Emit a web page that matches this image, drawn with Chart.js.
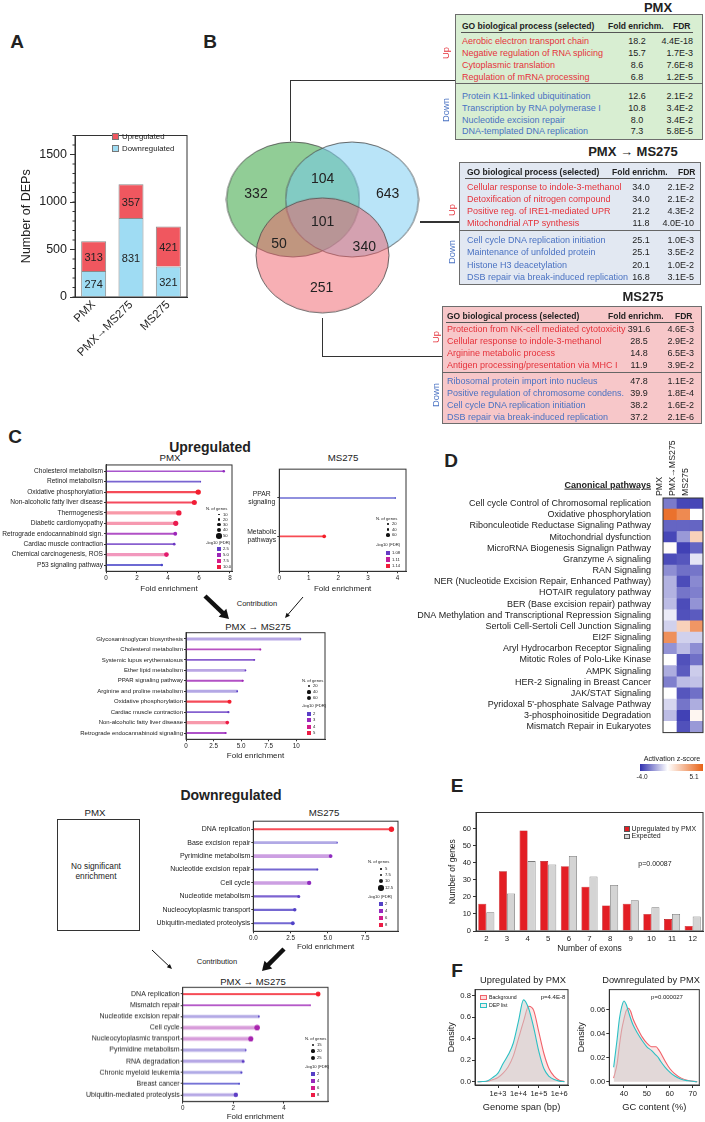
<!DOCTYPE html>
<html>
<head>
<meta charset="utf-8">
<script src="https://cdn.jsdelivr.net/npm/chart.js@4.4.1/dist/chart.umd.min.js"></script>
<style>
  body { margin: 0; background: #fff; }
  #page { position: relative; width: 705px; height: 1122px; overflow: hidden; font-family: "Liberation Sans", Arial, sans-serif; color: #222; }
  .abs { position: absolute; }
  .t { position: absolute; white-space: pre; line-height: 1.2; }
</style>
</head>
<body>
<div id="page"></div>
<script>
// ---------- data ----------
// A: number of DEPs
const depGroups = ['PMX', 'PMX\u2192MS275', 'MS275'];
const depUp = [313, 357, 421];
const depDown = [274, 831, 321];

// B: venn regions
const vennRegions = ['PMX only', 'PMX\u2192MS275 only', 'MS275 only', 'PMX & PMX\u2192MS275', 'PMX & MS275', 'PMX\u2192MS275 & MS275', 'all'];
const vennCounts = [332, 643, 251, 104, 50, 340, 101];

// B: GO tables
const goPmxUp = ['Aerobic electron transport chain', 'Negative regulation of RNA splicing', 'Cytoplasmic translation', 'Regulation of mRNA processing'];
const goPmxUpFold = [18.2, 15.7, 8.6, 6.8];
const goPmxUpFdr = ['4.4E-18', '1.7E-3', '7.6E-8', '1.2E-5'];
const goPmxDown = ['Protein K11-linked ubiquitination', 'Transcription by RNA polymerase I', 'Nucleotide excision repair', 'DNA-templated DNA replication'];
const goPmxDownFold = [12.6, 10.8, 8.0, 7.3];
const goPmxDownFdr = ['2.1E-2', '3.4E-2', '3.4E-2', '5.8E-5'];

const goComboUp = ['Cellular response to indole-3-methanol', 'Detoxification of nitrogen compound', 'Positive reg. of IRE1-mediated UPR', 'Mitochondrial ATP synthesis'];
const goComboUpFold = [34.0, 34.0, 21.2, 11.8];
const goComboUpFdr = ['2.1E-2', '2.1E-2', '4.3E-2', '4.0E-10'];
const goComboDown = ['Cell cycle DNA replication initiation', 'Maintenance of unfolded protein', 'Histone H3 deacetylation', 'DSB repair via break-induced replication'];
const goComboDownFold = [25.1, 25.1, 20.1, 16.8];
const goComboDownFdr = ['1.0E-3', '3.5E-2', '1.0E-2', '3.1E-5'];

const goMsUp = ['Protection from NK-cell mediated cytotoxicity', 'Cellular response to indole-3-methanol', 'Arginine metabolic process', 'Antigen processing/presentation via MHC I'];
const goMsUpFold = [391.6, 28.5, 14.8, 11.9];
const goMsUpFdr = ['4.6E-3', '2.9E-2', '6.5E-3', '3.9E-2'];
const goMsDown = ['Ribosomal protein import into nucleus', 'Positive regulation of chromosome condens.', 'Cell cycle DNA replication initiation', 'DSB repair via break-induced replication'];
const goMsDownFold = [47.8, 39.9, 38.2, 37.2];
const goMsDownFdr = ['1.1E-2', '1.8E-4', '1.6E-2', '2.1E-6'];

// C: KEGG lollipops (fold enrichment, number of genes, -log10 FDR)
const upPmxTerms = ['Cholesterol metabolism', 'Retinol metabolism', 'Oxidative phosphorylation', 'Non-alcoholic fatty liver disease', 'Thermogenesis', 'Diabetic cardiomyopathy', 'Retrograde endocannabinoid sign.', 'Cardiac muscle contraction', 'Chemical carcinogenesis, ROS', 'P53 signaling pathway'];
const upPmxFold = [7.6, 6.1, 5.95, 5.7, 4.7, 4.5, 4.47, 4.4, 3.9, 3.6];
const upPmxGenes = [22, 10, 48, 45, 48, 46, 34, 24, 42, 22];
const upPmxFdr = [4.5, 2.2, 10.8, 10.5, 10.2, 9.6, 5.0, 3.0, 8.6, 1.6];

const upMsTerms = ['PPAR\nsignaling', 'Metabolic\npathways'];
const upMsFold = [3.93, 1.52];
const upMsGenes = [12, 60];
const upMsFdr = [1.07, 1.145];

const upComboTerms = ['Glycosaminoglycan biosynthesis', 'Cholesterol metabolism', 'Systemic lupus erythematosus', 'Ether lipid metabolism', 'PPAR signaling pathway', 'Arginine and proline metabolism', 'Oxidative phosphorylation', 'Cardiac muscle contraction', 'Non-alcoholic fatty liver disease', 'Retrograde endocannabinoid signaling'];
const upComboFold = [10.4, 6.75, 6.2, 5.4, 5.15, 4.65, 3.95, 3.85, 3.75, 3.6];
const upComboGenes = [12, 20, 20, 18, 24, 18, 58, 25, 50, 24];
const upComboFdr = [2.1, 3.2, 2.3, 2.2, 3.1, 2.0, 5.3, 2.2, 5.0, 3.0];

const downMsTerms = ['DNA replication', 'Base excision repair', 'Pyrimidine metabolism', 'Nucleotide excision repair', 'Cell cycle', 'Nucleotide metabolism', 'Nucleocytoplasmic transport', 'Ubiquitin-mediated proteolysis'];
const downMsFold = [9.27, 5.63, 5.19, 4.3, 3.75, 3.05, 2.78, 2.65];
const downMsGenes = [12.5, 4.8, 9.5, 6, 10.5, 8, 9, 9.5];
const downMsFdr = [8.7, 2.0, 3.8, 2.0, 3.8, 2.3, 2.0, 1.9];

const downComboTerms = ['DNA replication', 'Mismatch repair', 'Nucleotide excision repair', 'Cell cycle', 'Nucleocytoplasmic transport', 'Pyrimidine metabolism', 'RNA degradation', 'Chronic myeloid leukemia', 'Breast cancer', 'Ubiquitin-mediated proteolysis'];
const downComboFold = [5.35, 5.04, 3.01, 2.94, 2.69, 2.49, 2.39, 2.32, 2.23, 2.1];
const downComboGenes = [25, 10, 12, 28, 26, 12, 17, 14, 12, 23];
const downComboFdr = [8.7, 4.2, 2.0, 4.6, 4.5, 2.0, 2.2, 1.8, 1.6, 2.2];

// D: canonical pathways, activation z-score
const pathways = ['Cell cycle Control of Chromosomal replication', 'Oxidative phosphorylation', 'Ribonculeotide Reductase Signaling Pathway', 'Mitochondrial dysfunction', 'MicroRNA Biogenesis Signalign Pathway', 'Granzyme A signaling', 'RAN Signaling', 'NER (Nucleotide Excision Repair, Enhanced Pathway)', 'HOTAIR regulatory pathway', 'BER (Base excision repair) pathway', 'DNA Methylation and Transcriptional Repression Signaling', 'Sertoli Cell-Sertoli Cell Junction Signaling', 'EI2F Signaling', 'Aryl Hydrocarbon Receptor Signaling', 'Mitotic Roles of Polo-Like Kinase', 'AMPK Signaling', 'HER-2 Signaling in Breast Cancer', 'JAK/STAT Signaling', "Pyridoxal 5'-phosphate Salvage Pathway", '3-phosphoinositide Degradation', 'Mismatch Repair in Eukaryotes'];
const heatCols = ['PMX', 'PMX\u2192MS275', 'MS275'];
const zPmx = [-2.6, 4.6, -3.0, -3.6, 0.1, -3.5, -2.2, -1.5, -1.5, -1.3, -0.4, -0.9, 3.6, -2.1, 0, -1.6, -2.5, 0, -0.8, -1.3, 0];
const zCombo = [-3.6, 3.8, -3.0, -2.0, -3.7, -3.3, -2.8, -3.5, -2.7, -3.5, -3.4, 1.5, -0.9, -1.3, -3.4, -3.2, -1.3, -3.3, -2.7, -3.7, -3.4];
const zMs = [-3.6, 0, -3.0, 1.5, -3.0, -0.5, -2.7, -2.3, -2.5, -2.1, -3.2, 3.4, -0.9, -2.2, -2.8, -1.0, -1.2, -2.8, -1.6, 0.3, -2.0];

// E: exon numbers
const exonCounts = ['2', '3', '4', '5', '6', '7', '8', '9', '10', '11', '12'];
const exonUp = [16, 35, 59, 41, 38, 26, 15, 16, 10, 7, 3];
const exonExpected = [11, 22, 41, 39, 44, 32, 27, 18, 14, 10, 8.5];

// F: densities
const spanLog = [2.0, 2.25, 2.5, 2.75, 3.0, 3.25, 3.5, 3.75, 4.0, 4.25, 4.5, 4.75, 5.0, 5.25, 5.5, 5.75, 6.0, 6.25];
const spanBackground = [0, 0.002, 0.005, 0.02, 0.04, 0.08, 0.14, 0.24, 0.40, 0.56, 0.70, 0.66, 0.46, 0.26, 0.12, 0.05, 0.015, 0.003];
const spanDep = [0, 0.002, 0.01, 0.04, 0.08, 0.17, 0.25, 0.36, 0.56, 0.76, 0.68, 0.50, 0.28, 0.12, 0.05, 0.02, 0.006, 0.001];
const gcPct = [35.5, 37, 38, 39, 40, 41, 42, 43, 44, 46, 48, 50, 52, 54, 55, 56, 58, 60, 62, 65, 68, 72];
const gcBackground = [0.003, 0.015, 0.03, 0.043, 0.052, 0.059, 0.061, 0.058, 0.052, 0.044, 0.037, 0.032, 0.029, 0.029, 0.027, 0.024, 0.017, 0.011, 0.007, 0.003, 0.001, 0];
const gcDep = [0.012, 0.035, 0.052, 0.062, 0.067, 0.064, 0.058, 0.052, 0.047, 0.040, 0.034, 0.029, 0.026, 0.022, 0.020, 0.017, 0.012, 0.008, 0.005, 0.002, 0.0008, 0];

// ---------- helpers ----------
const RED = '#e5323b';
const BLUE = '#4a72c2';
const FONT = '"Liberation Sans", Arial, sans-serif';
Chart.defaults.font.family = FONT;
Chart.defaults.color = '#222';
Chart.defaults.animation = false;
Chart.defaults.events = [];
Chart.defaults.plugins.legend.display = false;
Chart.defaults.plugins.tooltip.enabled = false;

const page = document.getElementById('page');

function text(str, x, y, opt = {}) {
  const d = document.createElement('div');
  d.className = 't';
  d.textContent = str;
  d.style.left = x + 'px';
  d.style.top = y + 'px';
  d.style.fontSize = (opt.size || 8) + 'px';
  if (opt.bold) d.style.fontWeight = 'bold';
  if (opt.color) d.style.color = opt.color;
  if (opt.center) d.style.textAlign = 'center';
  if (opt.underline) d.style.textDecoration = 'underline';
  const ax = opt.align === 'left' ? '0' : opt.align === 'right' ? '-100%' : '-50%';
  d.style.transform = `translate(${ax},-50%)` + (opt.rotate ? ` rotate(${opt.rotate}deg)` : '');
  page.appendChild(d);
  return d;
}

function rect(x, y, w, h, css) {
  const d = document.createElement('div');
  d.className = 'abs';
  d.style.cssText += `left:${x}px;top:${y}px;width:${w}px;height:${h}px;box-sizing:border-box;` + css;
  page.appendChild(d);
  return d;
}

function makeCanvas(x, y, w, h) {
  const wrap = rect(x, y, w, h, '');
  const c = document.createElement('canvas');
  wrap.appendChild(c);
  return c;
}

// box around the plot area
Chart.register({
  id: 'frame',
  afterDraw(chart, args, opts) {
    if (!opts.color) return;
    const { ctx, chartArea: a } = chart;
    ctx.save();
    ctx.strokeStyle = opts.color;
    ctx.lineWidth = opts.width || 1;
    ctx.strokeRect(a.left, a.top, a.right - a.left, a.bottom - a.top);
    ctx.restore();
  }
});

const fdrStops = [[70, 70, 200], [150, 40, 190], [220, 25, 130], [245, 30, 40]];
function fdrColor(v, lo, hi) {
  const t = Math.min(1, Math.max(0, (v - lo) / (hi - lo))) * 3;
  const i = Math.min(2, Math.floor(t));
  const f = t - i;
  return fdrStops[i].map((c, k) => Math.round(c + (fdrStops[i + 1][k] - c) * f));
}
function rgba(c, a) { return `rgba(${c[0]},${c[1]},${c[2]},${a})`; }
function sizeOf(n, st) {
  const t = Math.min(1, Math.max(0, (n - st.n0) / (st.n1 - st.n0)));
  return st.r0 + (st.r1 - st.r0) * t;
}

function lollipop(terms, fold, genes, fdr, st) {
  const col = fdr.map(v => fdrColor(v, st.fdrLo, st.fdrHi));
  const stems = [...new Set(st.stem)].map(w => {
    const ids = fold.map((v, i) => i).filter(i => st.stem[i] === w);
    return {
      type: 'bar', indexAxis: 'y', grouped: false, barThickness: w, order: 2,
      data: ids.map(i => ({ x: fold[i], y: i + 1 })),
      backgroundColor: ids.map(i => rgba(col[i], w >= 2 ? 0.45 : 0.8)),
      borderWidth: 0
    };
  });
  new Chart(makeCanvas(st.box[0], st.box[1], st.box[2], st.box[3]), {
    type: 'bubble',
    data: {
      datasets: [{
        type: 'bubble', order: 1, clip: false,
        data: fold.map((v, i) => ({ x: v, y: i + 1, r: sizeOf(genes[i], st) })),
        backgroundColor: col.map(c => rgba(c, 1)),
        borderWidth: 0
      }, ...stems]
    },
    options: {
      responsive: true, maintainAspectRatio: false,
      layout: { padding: { top: st.padTop, right: st.padRight, left: 0, bottom: 0 } },
      plugins: { frame: { color: '#333' } },
      scales: {
        x: {
          type: 'linear', min: 0, max: st.xMax, offset: false,
          afterBuildTicks: s => { s.ticks = st.xTicks.map(v => ({ value: v })); },
          ticks: { font: { size: 6.3 }, padding: 1, maxRotation: 0, autoSkip: false, callback: st.fmt },
          grid: { drawOnChartArea: false, tickLength: 2, color: '#333' },
          border: { color: '#333' },
          title: { display: true, text: 'Fold enrichment', font: { size: 8 }, padding: 0 },
          afterFit: s => { s.height = st.xH; }
        },
        y: {
          type: 'linear', reverse: true, offset: false,
          min: st.yMin ?? 0.4, max: st.yMax ?? terms.length + 0.6,
          afterBuildTicks: s => { s.ticks = terms.map((t, i) => ({ value: i + 1 })); },
          ticks: { font: { size: st.label }, padding: 1, autoSkip: false, crossAlign: st.cross || 'near', callback: v => terms[v - 1].split('\n') },
          grid: { drawOnChartArea: false, offset: false, tickLength: 2, color: '#333' },
          border: { color: '#333' },
          afterFit: s => { s.width = st.yW; }
        }
      }
    }
  });
  // legend
  const L = st.leg;
  text('N. of genes', L.x, L.gt, { size: 4.2, align: 'left' });
  L.genes.forEach((g, i) => {
    const r = sizeOf(g, st);
    rect(L.dot - r, L.gy[i] - r, r * 2, r * 2, 'background:#111;border-radius:50%;');
    text(String(g === Math.round(g) ? g : g.toFixed(1)), L.dot + 4, L.gy[i], { size: 4.2, align: 'left' });
  });
  text('-log10 (FDR)', L.x, L.ft, { size: 4.2, align: 'left' });
  L.fdr.forEach((f, i) => {
    rect(L.dot - 2.3, L.fy[i] - 2.3, 4.6, 4.6, 'background:' + rgba(fdrColor(f, st.fdrLo, st.fdrHi), 1) + ';');
    text(L.fdrText[i], L.dot + 4, L.fy[i], { size: 4.2, align: 'left' });
  });
}

function arrow(svg, x1, y1, x2, y2, w, hl, hw) {
  const len = Math.hypot(x2 - x1, y2 - y1);
  const dx = (x2 - x1) / len, dy = (y2 - y1) / len;
  const bx = x2 - dx * hl, by = y2 - dy * hl;
  const line = document.createElementNS('http://www.w3.org/2000/svg', 'line');
  line.setAttribute('x1', x1); line.setAttribute('y1', y1);
  line.setAttribute('x2', bx + dx); line.setAttribute('y2', by + dy);
  line.setAttribute('stroke', '#111'); line.setAttribute('stroke-width', w);
  svg.appendChild(line);
  const head = document.createElementNS('http://www.w3.org/2000/svg', 'polygon');
  head.setAttribute('points', `${x2},${y2} ${bx - dy * hw / 2},${by + dx * hw / 2} ${bx + dy * hw / 2},${by - dx * hw / 2}`);
  head.setAttribute('fill', '#111');
  svg.appendChild(head);
}

// ---------- panel letters ----------
text('A', 17, 42, { size: 19, bold: true });
text('B', 210, 42, { size: 19, bold: true });
text('C', 15, 437, { size: 19, bold: true });
text('D', 451, 461, { size: 19, bold: true });
text('E', 457, 786, { size: 19, bold: true });
text('F', 457, 971, { size: 19, bold: true });

// ---------- A ----------
new Chart(makeCanvas(0, 125, 190, 235), {
  type: 'bar',
  data: {
    labels: depGroups,
    datasets: [
      { label: 'Downregulated', data: depDown, backgroundColor: '#9fdcf3', borderColor: '#8a8a8a', borderWidth: 1 },
      { label: 'Upregulated', data: depUp, backgroundColor: '#f0575f', borderColor: '#8a8a8a', borderWidth: 1 }
    ]
  },
  options: {
    responsive: true, maintainAspectRatio: false,
    layout: { padding: { top: 5, right: 3 } },
    datasets: { bar: { barPercentage: 0.67, categoryPercentage: 1 } },
    plugins: { frame: { color: '#333' }, minorTicks: { step: 100, len: 2.5 } },
    scales: {
      x: {
        stacked: true,
        ticks: { font: { size: 11.5 }, minRotation: 45, maxRotation: 45, padding: 1 },
        grid: { display: false, drawTicks: false },
        border: { color: '#333' },
        afterFit: s => { s.height = 63; }
      },
      y: {
        stacked: true, min: 0, max: 1700,
        afterBuildTicks: s => { s.ticks = [0, 500, 1000, 1500].map(v => ({ value: v })); },
        ticks: { font: { size: 12.5 }, padding: 3, callback: v => String(v) },
        grid: { drawOnChartArea: false, tickLength: 5, color: '#333' },
        border: { color: '#333' },
        title: { display: true, text: 'Number of DEPs', font: { size: 12.5 }, padding: { top: 19.5, bottom: 0 } },
        afterFit: s => { s.width = 75; }
      }
    }
  },
  plugins: [{
    id: 'minorTicks',
    afterDraw(chart, args, o) {
      const s = chart.scales.y, ctx = chart.ctx;
      ctx.save();
      ctx.strokeStyle = '#333';
      for (let v = s.min; v <= s.max; v += o.step) {
        const y = s.getPixelForValue(v);
        ctx.beginPath(); ctx.moveTo(s.right - o.len, y); ctx.lineTo(s.right, y); ctx.stroke();
      }
      ctx.restore();
    }
  }, {
    id: 'segLabels',
    afterDatasetsDraw(chart) {
      const ctx = chart.ctx;
      ctx.save();
      ctx.font = '11px ' + FONT;
      ctx.fillStyle = '#222';
      ctx.textAlign = 'center';
      ctx.textBaseline = 'middle';
      chart.data.datasets.forEach((ds, i) => {
        chart.getDatasetMeta(i).data.forEach((bar, j) => {
          const p = bar.getCenterPoint();
          ctx.fillText(ds.data[j], p.x, p.y + 1.5);
        });
      });
      ctx.restore();
    }
  }]
});
rect(112, 133, 7, 7, 'background:#f0575f;border:1px solid #777;');
text('Upregulated', 122, 137, { size: 7.8, align: 'left' });
rect(112, 145, 7, 7, 'background:#9fdcf3;border:1px solid #777;');
text('Downregulated', 122, 148.5, { size: 7.8, align: 'left' });

// ---------- B: venn ----------
function ellipseImg(fill, rx, ry) {
  const c = document.createElement('canvas');
  c.width = Math.ceil(rx * 2 + 2);
  c.height = Math.ceil(ry * 2 + 2);
  const g = c.getContext('2d');
  g.fillStyle = fill;
  g.strokeStyle = 'rgba(80,80,80,0.85)';
  g.lineWidth = 1;
  g.beginPath();
  g.ellipse(c.width / 2, c.height / 2, rx, ry, 0, 0, Math.PI * 2);
  g.fill();
  g.stroke();
  return c;
}
const vennFill = ['rgba(35,155,45,0.5)', 'rgba(115,201,241,0.5)', 'rgba(239,95,105,0.5)'];
new Chart(makeCanvas(220, 130, 205, 200), {
  type: 'bubble',
  data: {
    datasets: [{
      clip: false,
      data: [{ x: -0.454, y: 0.47, r: 0.5 }, { x: 0.454, y: 0.47, r: 0.5 }, { x: 0, y: -0.39, r: 0.5 }],
      pointStyle: vennFill.map(f => ellipseImg(f, 66.5, 57.5))
    }]
  },
  options: {
    responsive: true, maintainAspectRatio: false,
    layout: { padding: 0 },
    scales: {
      x: { type: 'linear', min: -1.5, max: 1.5, display: false },
      y: { type: 'linear', min: -1.4636, max: 1.4636, display: false }
    }
  }
});
const vennPos = [[256, 192.7], [387.7, 192.7], [321.7, 287.3], [322.7, 178.3], [279, 243.3], [364.3, 246], [322.7, 221]];
vennCounts.forEach((n, i) => text(String(n), vennPos[i][0], vennPos[i][1], { size: 14 }));

// connectors
rect(289.5, 80.2, 1.3, 60.5, 'background:#333;');
rect(289.5, 80.2, 166, 1.3, 'background:#333;');
rect(420, 221.4, 40, 1.3, 'background:#333;');
rect(322, 318, 1.3, 39, 'background:#333;');
rect(322, 356, 121, 1.3, 'background:#333;');

function goTable(t) {
  text(t.title, t.tx, t.ty, { size: 13, bold: true });
  rect(t.x, t.y, t.w, t.h, `background:${t.bg};border:1px solid #6d6d6d;`);
  text('GO biological process (selected)', t.x + t.termX, t.y + t.hy, { size: 8.5, bold: true, align: 'left' });
  text('Fold enrichm.', t.x + t.foldHX, t.y + t.hy, { size: 8.5, bold: true, align: 'left' });
  text('FDR', t.x + t.fdrHX, t.y + t.hy, { size: 8.5, bold: true, align: 'left' });
  rect(t.x + t.lx0, t.y + t.ly, t.lx1 - t.lx0, 1, 'background:#555;');
  rect(t.x, t.y + t.sep, t.w, 1, 'background:#666;');
  const rows = (terms, fold, fdr, y0, color) => terms.forEach((s, i) => {
    const y = t.y + y0 + i * t.step;
    text(s, t.x + t.termX, y, { size: 9, color, align: 'left' });
    text(fold[i].toFixed(1), t.x + t.foldX, y, { size: 9 });
    text(fdr[i], t.x + t.fdrX, y, { size: 9, align: 'right' });
  });
  rows(t.up, t.upFold, t.upFdr, t.u0, RED);
  rows(t.down, t.downFold, t.downFdr, t.d0, BLUE);
  text('Up', t.sx, t.upY, { size: 9.4, color: RED, rotate: -90 });
  text('Down', t.sx, t.downY, { size: 9.4, color: BLUE, rotate: -90 });
}

goTable({
  title: 'PMX', tx: 658, ty: 8, x: 455, y: 14, w: 248, h: 126, bg: '#d8eed2',
  termX: 7, foldHX: 153, fdrHX: 218, hy: 12, lx0: 6, lx1: 238, ly: 17.7, sep: 69.3,
  foldX: 182, fdrX: 238, u0: 27, d0: 81.7, step: 11.9,
  up: goPmxUp, upFold: goPmxUpFold, upFdr: goPmxUpFdr,
  down: goPmxDown, downFold: goPmxDownFold, downFdr: goPmxDownFdr,
  sx: 446, upY: 53, downY: 110
});
goTable({
  title: 'PMX \u2192 MS275', tx: 633, ty: 152, x: 459, y: 162, w: 242, h: 123, bg: '#e2e8f2',
  termX: 8, foldHX: 153, fdrHX: 219, hy: 10, lx0: 6, lx1: 236, ly: 16, sep: 68,
  foldX: 182, fdrX: 235, u0: 25, d0: 78.3, step: 12.1,
  up: goComboUp, upFold: goComboUpFold, upFdr: goComboUpFdr,
  down: goComboDown, downFold: goComboDownFold, downFdr: goComboDownFdr,
  sx: 452, upY: 210, downY: 252
});
goTable({
  title: 'MS275', tx: 643, ty: 297, x: 442, y: 306, w: 260, h: 118, bg: '#f7c7c9',
  termX: 5, foldHX: 166, fdrHX: 233, hy: 10, lx0: 4, lx1: 252, ly: 16, sep: 65.7,
  foldX: 197, fdrX: 252, u0: 23, d0: 75, step: 11.9,
  up: goMsUp, upFold: goMsUpFold, upFdr: goMsUpFdr,
  down: goMsDown, downFold: goMsDownFold, downFdr: goMsDownFdr,
  sx: 436, upY: 337, downY: 395
});

// ---------- C ----------
text('Upregulated', 210, 447, { size: 14, bold: true });
text('PMX', 170, 458, { size: 9.7 });
text('MS275', 343, 458, { size: 9.7 });
text('PMX \u2192 MS275', 258, 627, { size: 9.5 });
text('Contribution', 257, 603, { size: 7.5 });
text('Downregulated', 231, 795, { size: 14, bold: true });
text('PMX', 95, 813, { size: 9.7 });
text('MS275', 324, 813, { size: 9.7 });
rect(57, 819, 83, 112, 'border:1.3px solid #333;');
text('No significant\nenrichment', 96, 872, { size: 8.3, center: true });
text('Contribution', 217, 961, { size: 7.5 });
text('PMX \u2192 MS275', 253, 982, { size: 9.5 });

lollipop(upPmxTerms, upPmxFold, upPmxGenes, upPmxFdr, {
  box: [0, 460, 236, 133.3], padTop: 4.7, padRight: 2, yW: 106, xH: 22, label: 6.6,
  xMax: 8.13, xTicks: [0, 2, 4, 6, 8], fmt: v => String(v),
  fdrLo: 1.5, fdrHi: 11, n0: 10, n1: 50, r0: 0.6, r1: 2.8,
  stem: [1, 1, 1.5, 1.5, 2.5, 2.5, 1.5, 1.2, 2.5, 1.2],
  leg: { x: 206, dot: 219, gt: 509, genes: [10, 20, 30, 40, 50], gy: [514.5, 519.5, 524.5, 530, 536], ft: 543, fdr: [2.5, 5, 7.5, 10], fdrText: ['2.5', '5.0', '7.5', '10.0'], fy: [549, 555, 561, 567] }
});
lollipop(upMsTerms, upMsFold, upMsGenes, upMsFdr, {
  box: [240, 460, 170, 133.3], padTop: 5, padRight: 2, yW: 39.3, xH: 22, yMin: 0.25, yMax: 2.91, cross: 'center', label: 6.8,
  xMax: 4.29, xTicks: [0, 1, 2, 3, 4], fmt: v => String(v),
  fdrLo: 1.07, fdrHi: 1.145, n0: 15, n1: 65, r0: 0.7, r1: 2.0,
  stem: [1, 1.2],
  leg: { x: 376, dot: 388, gt: 519, genes: [20, 40, 60], gy: [524, 529.5, 535], ft: 545, fdr: [1.08, 1.11, 1.14], fdrText: ['1.08', '1.11', '1.14'], fy: [553, 559.5, 566] }
});
lollipop(upComboTerms, upComboFold, upComboGenes, upComboFdr, {
  box: [70, 628, 259, 132.3], padTop: 4.7, padRight: 2, yW: 116, xH: 21, label: 6.0,
  xMax: 12.62, xTicks: [0, 2.5, 5, 7.5, 10], fmt: v => (v === 0 || v === 10) ? String(v) : v.toFixed(1),
  fdrLo: 1.7, fdrHi: 5.4, n0: 10, n1: 60, r0: 0.7, r1: 2.1,
  stem: [2.5, 1.2, 1.2, 2, 1.2, 2.5, 1.5, 1.2, 2.5, 1.2],
  leg: { x: 302, dot: 309, gt: 681, genes: [20, 40, 60], gy: [686, 692, 698], ft: 706, fdr: [2, 3, 4, 5], fdrText: ['2', '3', '4', '5'], fy: [714, 720, 727, 733] }
});
lollipop(downMsTerms, downMsFold, downMsGenes, downMsFdr, {
  box: [145, 816, 257, 135.3], padTop: 5, padRight: 2, yW: 108.3, xH: 20, label: 7.0,
  xMax: 9.71, xTicks: [0, 2.5, 5, 7.5], fmt: v => v.toFixed(1),
  fdrLo: 1.6, fdrHi: 8.8, n0: 4.5, n1: 13, r0: 0.6, r1: 2.8,
  stem: [1.2, 2, 3, 1.5, 3, 1.5, 1.5, 1.5],
  leg: { x: 368, dot: 381, gt: 862, genes: [5, 7.5, 10, 12.5], gy: [869, 875, 881, 888], ft: 897, fdr: [2, 4, 6, 8], fdrText: ['2', '4', '6', '8'], fy: [904, 911, 918, 925] }
});
lollipop(downComboTerms, downComboFold, downComboGenes, downComboFdr, {
  box: [70, 982, 262, 138.7], padTop: 5.3, padRight: 2, yW: 112.7, xH: 20, label: 7.0,
  xMax: 5.74, xTicks: [0, 2, 4], fmt: v => String(v),
  fdrLo: 1.5, fdrHi: 8.8, n0: 10, n1: 28, r0: 0.7, r1: 2.8,
  stem: [1.2, 1.2, 2.5, 3, 3, 2.5, 2.5, 2.5, 1.2, 2.5],
  leg: { x: 305, dot: 313, gt: 1039, genes: [15, 20, 25], gy: [1045, 1051, 1058], ft: 1067, fdr: [2, 4, 6, 8], fdrText: ['2', '4', '6', '8'], fy: [1074, 1081, 1088, 1095] }
});

// contribution arrows
const svg = document.createElementNS('http://www.w3.org/2000/svg', 'svg');
svg.setAttribute('width', 705);
svg.setAttribute('height', 1122);
svg.style.cssText = 'position:absolute;left:0;top:0;pointer-events:none;';
page.appendChild(svg);
arrow(svg, 205, 596, 229, 619, 4.5, 9, 11);
arrow(svg, 303, 597, 285, 618, 1, 5, 4.5);
arrow(svg, 152, 950, 172, 969, 1, 5, 4.5);
arrow(svg, 284, 949, 262, 971, 4.5, 9, 11);

// ---------- D: heatmap ----------
function zColor(z) {
  const end = z < 0 ? [50, 50, 175] : [232, 98, 22];
  const t = z < 0 ? Math.min(1, -z / 4) : Math.min(1, z / 5.1);
  return `rgb(${end.map(c => Math.round(255 + (c - 255) * t)).join(',')})`;
}
text('Canonical pathways', 651, 485, { size: 9, bold: true, align: 'right', underline: true });
new Chart(makeCanvas(400, 425, 305, 325), {
  type: 'bar',
  data: {
    labels: pathways,
    datasets: [zPmx, zCombo, zMs].map(col => ({
      data: col.map(() => 1),
      backgroundColor: col.map(zColor),
      borderWidth: 0,
      barPercentage: 1, categoryPercentage: 1
    }))
  },
  options: {
    indexAxis: 'y',
    responsive: true, maintainAspectRatio: false,
    layout: { padding: { top: 0, right: 2, left: 0, bottom: 0 } },
    plugins: { frame: { color: '#333' } },
    scales: {
      x: { stacked: true, min: 0, max: 3, display: false },
      x2: {
        type: 'linear', position: 'top', min: 0, max: 3,
        afterBuildTicks: s => { s.ticks = [0.5, 1.5, 2.5].map(v => ({ value: v })); },
        ticks: { font: { size: 8.8 }, minRotation: 90, maxRotation: 90, padding: 2, autoSkip: false, callback: (v, i) => heatCols[i] },
        grid: { display: false, drawTicks: false },
        border: { display: false },
        afterFit: s => { s.height = 73; }
      },
      y: {
        stacked: true,
        ticks: { font: { size: 9 }, padding: 12, autoSkip: false },
        grid: { display: false, drawTicks: false },
        border: { display: false },
        afterFit: s => { s.width = 263; }
      }
    }
  }
});
text('Activation z-score', 672, 759, { size: 7.2 });
rect(640, 764, 63, 7, 'background:linear-gradient(to right, rgb(50,50,175), #fff 44%, rgb(232,98,22));');
text('-4.0', 642, 776.5, { size: 6.5 });
text('5.1', 694, 776.5, { size: 6.5 });

// ---------- E ----------
new Chart(makeCanvas(440, 806, 265, 148), {
  type: 'bar',
  data: {
    labels: exonCounts,
    datasets: [
      { data: exonUp, backgroundColor: '#e31e24', borderColor: '#b01015', borderWidth: 0.6 },
      { data: exonExpected, backgroundColor: '#d4d4d4', borderColor: '#7a7a7a', borderWidth: 0.8 }
    ]
  },
  options: {
    responsive: true, maintainAspectRatio: false,
    layout: { padding: { top: 5, right: 2 } },
    datasets: { bar: { barPercentage: 1, categoryPercentage: 0.78 } },
    plugins: { frame: { color: '#333' } },
    scales: {
      x: {
        ticks: { font: { size: 7.8 }, padding: 3 },
        grid: { display: false, drawTicks: false },
        border: { color: '#333' },
        title: { display: true, text: 'Number of exons', font: { size: 8.5 }, padding: 0 },
        afterFit: s => { s.height = 23; }
      },
      y: {
        min: 0, max: 69.5,
        afterBuildTicks: s => { s.ticks = [0, 10, 20, 30, 40, 50, 60].map(v => ({ value: v })); },
        ticks: { font: { size: 7.5 }, padding: 2 },
        grid: { drawOnChartArea: false, tickLength: 3, color: '#333' },
        border: { color: '#333' },
        title: { display: true, text: 'Number of genes', font: { size: 8.5 }, padding: { top: 8, bottom: 0 } },
        afterFit: s => { s.width = 36; }
      }
    }
  }
});
rect(624, 826, 5.5, 5.5, 'background:#e31e24;border:0.6px solid #555;');
text('Upregulated by PMX', 631.5, 828.8, { size: 7, align: 'left' });
rect(624, 833.5, 5.5, 5.5, 'background:#d4d4d4;border:0.6px solid #555;');
text('Expected', 631.5, 836.3, { size: 7, align: 'left' });
text('p=0.00087', 655, 864, { size: 7 });

// ---------- F ----------
function densityChart(box, xs, bg, dep, sc) {
  new Chart(makeCanvas(box[0], box[1], box[2], box[3]), {
    type: 'line',
    data: {
      datasets: [
        { data: xs.map((x, i) => ({ x, y: dep[i] })), borderColor: '#2cc0c4', backgroundColor: 'rgba(205,205,205,0.55)', fill: 'origin', borderWidth: 1.1, pointRadius: 0, cubicInterpolationMode: 'monotone' },
        { data: xs.map((x, i) => ({ x, y: bg[i] })), borderColor: '#f0626a', backgroundColor: 'rgba(250,205,205,0.5)', fill: 'origin', borderWidth: 1.1, pointRadius: 0, cubicInterpolationMode: 'monotone' }
      ]
    },
    options: {
      responsive: true, maintainAspectRatio: false,
      layout: { padding: { top: sc.padTop, right: sc.padRight } },
      plugins: { frame: { color: '#333' } },
      scales: {
        x: {
          type: 'linear', min: sc.xMin, max: sc.xMax,
          afterBuildTicks: s => { s.ticks = sc.xTicks.map(v => ({ value: v })); },
          ticks: { font: { size: 7.5 }, padding: 1, maxRotation: 0, callback: sc.xFmt },
          grid: { drawOnChartArea: false, tickLength: 3, color: '#333' },
          border: { color: '#333' },
          title: { display: true, text: sc.xTitle, font: { size: 9.3 }, padding: 0 },
          afterFit: s => { s.height = 28; }
        },
        y: {
          type: 'linear', min: sc.yMin, max: sc.yMax,
          afterBuildTicks: s => { s.ticks = sc.yTicks.map(v => ({ value: v })); },
          ticks: { font: { size: 7.7 }, padding: 1, callback: sc.yFmt },
          grid: { drawOnChartArea: false, tickLength: 3, color: '#333' },
          border: { color: '#333' },
          title: { display: true, text: 'Density', font: { size: 9 }, padding: { top: sc.yTitlePad, bottom: 0 } },
          afterFit: s => { s.width = sc.yW; }
        }
      }
    }
  });
}
text('Upregulated by PMX', 523, 981, { size: 9.3 });
text('Downregulated by PMX', 651, 981, { size: 9.3 });
densityChart([440, 984, 130, 129], spanLog, spanBackground, spanDep, {
  padTop: 4.3, padRight: 2, yW: 35, yTitlePad: 6.6,
  xMin: 1.874, xMax: 6.426, xTicks: [3, 4, 5, 6], xFmt: v => '1e+' + v, xTitle: 'Genome span (bp)',
  yMin: -0.03, yMax: 0.855, yTicks: [0, 0.2, 0.4, 0.6, 0.8], yFmt: v => v.toFixed(1)
});
densityChart([572, 984, 131, 129], gcPct, gcBackground, gcDep, {
  padTop: 4.3, padRight: 3.7, yW: 37.3, yTitlePad: 4.6,
  xMin: 33.6, xMax: 72.9, xTicks: [40, 50, 60, 70], xFmt: v => String(v), xTitle: 'GC content (%)',
  yMin: -0.0027, yMax: 0.0764, yTicks: [0, 0.02, 0.04, 0.06], yFmt: v => v.toFixed(2)
});
rect(480, 994.5, 7, 5.5, 'background:rgba(250,205,205,0.7);border:0.8px solid #f0626a;');
text('Background', 489, 997.3, { size: 5.2, align: 'left' });
rect(480, 1002.5, 7, 5.5, 'background:#eee;border:0.8px solid #2cc0c4;');
text('DEP list', 489, 1005.3, { size: 5.2, align: 'left' });
text('p=4.4E-8', 553, 997.5, { size: 6 });
text('p=0.000027', 667, 997.5, { size: 6 });
</script>
</body>
</html>
